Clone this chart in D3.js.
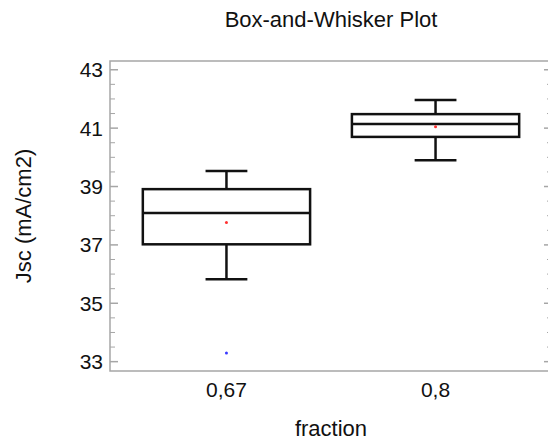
<!DOCTYPE html>
<html>
<head>
<meta charset="utf-8">
<script src="https://cdn.jsdelivr.net/npm/d3@7"></script>
<style>
  body { margin: 0; background: #fff; }
  text { font-family: Arial, "Liberation Sans", sans-serif; fill: #111; }
</style>
</head>
<body>
<svg id="chart"></svg>
<script>
// data
let categories = ["0,67", "0,8"];
let whiskerLow = [35.82, 39.9];
let q1 = [37.02, 40.7];
let median = [38.09, 41.14];
let q3 = [38.91, 41.48];
let whiskerHigh = [39.53, 41.96];
let means = [37.77, 41.05];
let outliers = [{ cat: "0,67", value: 33.3 }];
let yTicks = [33, 35, 37, 39, 41, 43];

let width = 548;
let height = 442;
let margin = { top: 61, right: -4, bottom: 71, left: 110 };

let svg = d3.select("#chart").attr("width", width).attr("height", height);

let x = d3
  .scalePoint()
  .domain(categories)
  .range([margin.left, width - margin.right])
  .padding(0.557);

let y = d3
  .scaleLinear()
  .domain([32.68, 43.3])
  .range([height - margin.bottom, margin.top]);

let step = x.step();
let boxW = step * 0.8;
let capW = step * 0.2;

// frame
svg
  .append("rect")
  .attr("x", margin.left)
  .attr("y", margin.top)
  .attr("width", width - margin.right - margin.left)
  .attr("height", height - margin.bottom - margin.top)
  .attr("fill", "none")
  .attr("stroke", "#a6a6a6")
  .attr("stroke-width", 1.5);

// ticks on left and right (pointing inward)
let minor = d3.range(33, 43.01, 0.5);
let x0 = margin.left;
let x1 = width - margin.right;
minor.forEach(function (v) {
  let major = yTicks.indexOf(v) >= 0;
  let len = major ? 8 : 5;
  svg.append("line")
    .attr("x1", x0).attr("x2", x0 + len)
    .attr("y1", y(v)).attr("y2", y(v))
    .attr("stroke", "#a6a6a6").attr("stroke-width", major ? 1.5 : 1);
  svg.append("line")
    .attr("x1", x1).attr("x2", x1 - len)
    .attr("y1", y(v)).attr("y2", y(v))
    .attr("stroke", "#a6a6a6").attr("stroke-width", major ? 1.5 : 1);
});

// y tick labels
svg
  .selectAll(".ylab")
  .data(yTicks)
  .enter()
  .append("text")
  .attr("x", margin.left - 7)
  .attr("y", function (d) { return y(d); })
  .attr("dy", "0.36em")
  .attr("text-anchor", "end")
  .style("font-size", "21px")
  .text(function (d) { return d; });

// x tick labels
svg
  .selectAll(".xlab")
  .data(categories)
  .enter()
  .append("text")
  .attr("x", function (d) { return x(d); })
  .attr("y", 397)
  .attr("text-anchor", "middle")
  .style("font-size", "21px")
  .text(function (d) { return d; });

// titles
svg.append("text")
  .attr("x", (margin.left + x1) / 2)
  .attr("y", 27)
  .attr("text-anchor", "middle")
  .style("font-size", "22px")
  .text("Box-and-Whisker Plot");

svg.append("text")
  .attr("x", (margin.left + x1) / 2)
  .attr("y", 436)
  .attr("text-anchor", "middle")
  .style("font-size", "22px")
  .text("fraction");

svg.append("text")
  .attr("transform", "translate(31," + (margin.top + height - margin.bottom) / 2 + ") rotate(-90)")
  .attr("text-anchor", "middle")
  .style("font-size", "22px")
  .text("Jsc (mA/cm2)");

// boxes
let g = svg.append("g")
  .attr("stroke", "#111")
  .attr("stroke-width", 2.5)
  .attr("fill", "none");

categories.forEach(function (c, i) {
  let cx = x(c);
  // whiskers
  g.append("line").attr("x1", cx).attr("x2", cx)
    .attr("y1", y(q3[i])).attr("y2", y(whiskerHigh[i]));
  g.append("line").attr("x1", cx).attr("x2", cx)
    .attr("y1", y(q1[i])).attr("y2", y(whiskerLow[i]));
  g.append("line").attr("x1", cx - capW / 2).attr("x2", cx + capW / 2)
    .attr("y1", y(whiskerHigh[i])).attr("y2", y(whiskerHigh[i]));
  g.append("line").attr("x1", cx - capW / 2).attr("x2", cx + capW / 2)
    .attr("y1", y(whiskerLow[i])).attr("y2", y(whiskerLow[i]));
  // box
  g.append("rect")
    .attr("x", cx - boxW / 2)
    .attr("y", y(q3[i]))
    .attr("width", boxW)
    .attr("height", y(q1[i]) - y(q3[i]));
  // median
  g.append("line").attr("x1", cx - boxW / 2).attr("x2", cx + boxW / 2)
    .attr("y1", y(median[i])).attr("y2", y(median[i]));
});

// mean markers
svg.selectAll(".mean")
  .data(categories)
  .enter()
  .append("circle")
  .attr("cx", function (d) { return x(d); })
  .attr("cy", function (d, i) { return y(means[i]); })
  .attr("r", 1.5)
  .attr("fill", "#ff3030");

// outliers
svg.selectAll(".out")
  .data(outliers)
  .enter()
  .append("circle")
  .attr("cx", function (d) { return x(d.cat); })
  .attr("cy", function (d) { return y(d.value); })
  .attr("r", 1.5)
  .attr("fill", "#3a3aff");
</script>
</body>
</html>
